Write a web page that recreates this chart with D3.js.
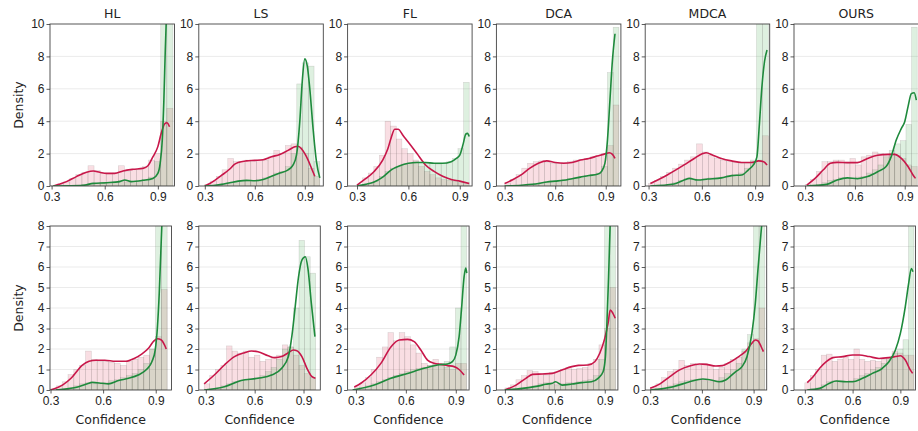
<!DOCTYPE html>
<html lang="en">
<head>
<meta charset="utf-8" />
<title>Confidence density per method</title>
<script src="https://cdn.jsdelivr.net/npm/d3@7"></script>
<style>
    body { margin: 0; background: #fff; }
    svg { display: block; font-family: "DejaVu Sans", sans-serif; }
    .tick text { font-size: 12px; fill: #222; }
    .tick line { stroke: #333; stroke-width: 0.8; }
</style>
</head>
<body>
<svg id="chart" width="918" height="431"></svg>
<script>
// ---- data ----
const methods = ["HL", "LS", "FL", "DCA", "MDCA", "OURS"];
const xTicks = [0.3, 0.6, 0.9];
const yTicksTop = [0, 2, 4, 6, 8, 10];
const yTicksBottom = [0, 1, 2, 3, 4, 5, 6, 7, 8];

// x-axis limits of each panel
const xLimTop = [[0.291, 0.994], [0.264, 1.011], [0.245, 0.972], [0.251, 0.990], [0.281, 0.982], [0.233, 0.983]];
const xLimBottom = [[0.297, 0.990], [0.257, 1.003], [0.250, 0.980], [0.249, 0.979], [0.271, 0.976], [0.232, 0.995]];

// histogram range (20 bins each)
const binRangeTop = [[0.30, 0.985], [0.30, 0.99], [0.30, 0.955], [0.30, 0.978], [0.30, 0.975], [0.30, 0.975]];
const binRangeBottom = [[0.30, 0.965], [0.29, 0.975], [0.29, 0.965], [0.30, 0.965], [0.30, 0.965], [0.30, 0.985]];

// bar densities, top row
const redBarsTop = [
    [0.02,0.1,0.25,0.45,0.7,0.85,1.25,0.95,0.8,0.75,0.8,1.25,0.9,1.0,1.0,1.2,1.6,2.0,4.0,4.8],
    [0.1,0.3,0.6,1.0,1.7,1.5,1.5,1.6,1.5,1.6,1.6,1.8,2.2,2.0,2.5,2.6,2.4,2.0,1.1,0.6],
    [0.1,0.5,0.8,1.2,1.9,4.0,3.7,2.9,2.3,2.0,1.6,1.2,0.9,0.7,0.5,0.4,0.35,0.3,0.2,0.2],
    [0.15,0.4,0.7,1.1,1.4,1.5,1.55,1.45,1.4,1.4,1.45,1.5,1.6,1.65,1.7,1.8,1.9,2.0,2.5,5.0],
    [0.15,0.35,0.6,0.85,1.1,1.35,1.6,1.8,2.6,2.1,1.9,1.7,1.6,1.5,1.45,1.4,1.4,1.5,1.6,3.1],
    [0.1,0.4,0.9,1.5,1.5,1.6,1.6,1.4,1.7,1.3,1.8,1.9,2.1,2.0,1.9,2.0,1.9,1.7,1.3,1.2]
];
const greenBarsTop = [
    [0,0,0,0.02,0.05,0.1,0.15,0.15,0.2,0.2,0.25,0.35,0.25,0.3,0.3,0.4,0.55,1.5,11,16],
    [0,0.02,0.05,0.1,0.2,0.3,0.35,0.3,0.35,0.4,0.5,0.6,0.8,0.9,1.2,2.0,6.3,7.6,7.4,1.5],
    [0,0.05,0.15,0.3,0.6,0.9,1.1,1.2,1.35,1.4,1.5,1.45,1.4,1.4,1.35,1.4,1.5,1.7,2.3,6.4],
    [0,0,0.02,0.05,0.1,0.15,0.2,0.25,0.3,0.35,0.4,0.45,0.5,0.6,0.65,0.7,0.8,1.2,7.0,9.8],
    [0,0.02,0.05,0.1,0.2,0.35,0.45,0.4,0.4,0.45,0.5,0.5,0.55,0.65,0.7,0.8,1.1,1.6,10.5,10.5],
    [0,0.02,0.1,0.2,0.35,0.4,0.5,0.5,0.45,0.55,0.6,0.8,1.0,1.3,1.8,2.2,2.6,2.8,3.8,9.8]
];
// bar densities, bottom row
const redBarsBottom = [
    [0.05,0.2,0.4,0.75,1.0,1.2,1.9,1.5,1.4,1.4,1.35,1.3,1.2,1.4,1.5,1.6,1.7,2.0,2.6,4.9],
    [0.3,0.7,1.0,1.2,2.15,1.9,1.8,1.9,1.6,1.7,1.4,1.5,1.6,1.7,2.2,2.1,1.7,1.2,0.8,0.6],
    [0.15,0.35,0.6,1.0,1.6,2.1,2.8,2.4,2.8,2.6,2.2,1.8,1.3,1.2,1.5,1.3,1.1,1.0,1.3,1.3],
    [0.1,0.25,0.5,0.7,0.95,0.9,0.8,0.7,0.85,0.9,1.0,1.1,1.0,1.05,1.1,1.3,1.5,2.2,3.0,5.0],
    [0.1,0.3,0.6,0.9,1.0,1.45,1.2,1.3,1.2,1.3,1.2,1.0,1.1,1.3,1.5,1.6,1.9,2.3,2.5,4.0],
    [0.35,0.7,1.0,1.7,1.75,1.4,1.5,1.6,1.5,2.0,1.5,1.4,1.45,1.4,1.5,1.6,1.9,1.8,1.7,1.7]
];
const greenBarsBottom = [
    [0,0,0.05,0.1,0.2,0.3,0.35,0.3,0.3,0.35,0.45,0.5,0.6,0.7,0.8,1.0,1.3,2.0,9,12],
    [0,0.05,0.1,0.2,0.3,0.4,0.45,0.5,0.55,0.6,0.7,0.9,1.1,1.5,2.0,2.1,4.0,7.3,6.5,5.7],
    [0,0.1,0.2,0.3,0.4,0.5,0.6,0.7,0.8,0.9,1.0,1.05,1.1,1.2,1.25,1.3,1.4,2.1,4.0,8.5],
    [0,0,0.05,0.1,0.15,0.2,0.3,0.35,0.3,0.25,0.3,0.35,0.35,0.4,0.45,0.5,0.7,1.5,9,12],
    [0,0.05,0.1,0.2,0.3,0.4,0.45,0.5,0.5,0.45,0.4,0.45,0.6,0.8,1.0,1.3,2.0,2.7,8.5,10],
    [0,0.05,0.1,0.25,0.4,0.45,0.4,0.4,0.45,0.55,0.7,0.8,1.0,1.1,1.3,1.6,1.8,2.0,2.45,8.5]
];

// KDE curves as [confidence, density] pairs
const redKdeTop = [
    [[0.31,0],[0.34,0.1],[0.384,0.27],[0.44,0.58],[0.497,0.85],[0.535,0.93],[0.572,0.85],[0.61,0.78],[0.656,0.78],[0.703,0.93],[0.76,1.03],[0.816,1.09],[0.844,1.25],[0.872,1.8],[0.9,2.43],[0.919,3.25],[0.938,3.83],[0.951,3.9],[0.966,3.66]],
    [[0.30,0],[0.33,0.15],[0.36,0.35],[0.40,0.65],[0.45,1.05],[0.48,1.35],[0.50,1.45],[0.55,1.55],[0.60,1.58],[0.65,1.62],[0.70,1.8],[0.75,1.95],[0.80,2.2],[0.84,2.42],[0.86,2.45],[0.88,2.3],[0.90,2.0],[0.92,1.6],[0.94,1.1],[0.96,0.6]],
    [[0.30,0.05],[0.35,0.45],[0.40,0.9],[0.45,1.6],[0.48,2.3],[0.50,3.0],[0.52,3.5],[0.54,3.5],[0.57,3.1],[0.60,2.7],[0.65,2.0],[0.70,1.3],[0.75,0.9],[0.80,0.6],[0.85,0.4],[0.90,0.3],[0.955,0.15]],
    [[0.30,0.15],[0.35,0.4],[0.40,0.7],[0.45,1.1],[0.50,1.4],[0.55,1.55],[0.60,1.45],[0.65,1.4],[0.70,1.45],[0.75,1.6],[0.80,1.7],[0.85,1.85],[0.90,2.0],[0.92,2.05],[0.94,1.95],[0.955,1.7]],
    [[0.31,0.15],[0.405,0.68],[0.5,1.3],[0.557,1.7],[0.605,2.0],[0.624,2.05],[0.662,1.9],[0.71,1.7],[0.767,1.55],[0.824,1.45],[0.88,1.45],[0.92,1.55],[0.948,1.5],[0.967,1.3]],
    [[0.31,0.06],[0.36,0.47],[0.41,1.0],[0.452,1.4],[0.493,1.46],[0.554,1.44],[0.615,1.44],[0.676,1.7],[0.737,1.9],[0.798,1.95],[0.839,1.95],[0.88,1.7],[0.92,1.2],[0.95,0.68],[0.965,0.47]]
];
const greenKdeTop = [
    [[0.31,0],[0.40,0.01],[0.478,0.04],[0.535,0.16],[0.61,0.2],[0.685,0.27],[0.713,0.37],[0.75,0.27],[0.816,0.35],[0.872,0.47],[0.9,0.78],[0.913,1.4],[0.925,2.84],[0.934,5.3],[0.942,8.4],[0.95,11],[0.96,13.5],[0.975,14]],
    [[0.30,0],[0.35,0.03],[0.40,0.1],[0.45,0.2],[0.50,0.3],[0.55,0.35],[0.60,0.32],[0.65,0.4],[0.70,0.6],[0.75,0.8],[0.80,1.0],[0.83,1.3],[0.85,1.9],[0.87,4.0],[0.885,6.5],[0.90,7.85],[0.915,7.4],[0.93,6.0],[0.95,3.5],[0.97,1.5],[0.99,0.5]],
    [[0.30,0],[0.35,0.1],[0.40,0.25],[0.45,0.55],[0.50,1.0],[0.55,1.25],[0.60,1.4],[0.65,1.45],[0.70,1.45],[0.75,1.4],[0.80,1.4],[0.85,1.5],[0.88,1.7],[0.90,1.9],[0.92,2.6],[0.935,3.2],[0.945,3.25],[0.955,3.05]],
    [[0.30,0],[0.40,0.05],[0.50,0.15],[0.55,0.25],[0.60,0.3],[0.65,0.35],[0.70,0.45],[0.75,0.55],[0.80,0.65],[0.85,0.72],[0.875,0.9],[0.895,1.4],[0.91,2.8],[0.925,5.3],[0.94,7.8],[0.955,9.4]],
    [[0.31,0],[0.443,0.12],[0.5,0.37],[0.53,0.47],[0.576,0.37],[0.633,0.43],[0.71,0.5],[0.767,0.64],[0.824,0.68],[0.862,1.0],[0.89,1.3],[0.91,1.8],[0.923,3.66],[0.938,6.1],[0.953,7.7],[0.967,8.4]],
    [[0.31,0],[0.43,0.1],[0.493,0.37],[0.554,0.5],[0.615,0.45],[0.676,0.58],[0.737,0.88],[0.788,1.2],[0.818,1.8],[0.849,2.84],[0.88,3.56],[0.9,3.97],[0.92,4.9],[0.94,5.7],[0.957,5.76],[0.97,5.3]]
];
const redKdeBottom = [
    [[0.30,0],[0.37,0.25],[0.42,0.6],[0.48,1.2],[0.52,1.4],[0.56,1.45],[0.61,1.45],[0.67,1.4],[0.73,1.4],[0.78,1.55],[0.82,1.75],[0.86,2.05],[0.89,2.4],[0.91,2.5],[0.93,2.45],[0.95,2.2],[0.96,2.0]],
    [[0.29,0.3],[0.352,0.73],[0.414,1.22],[0.476,1.63],[0.538,1.82],[0.58,1.9],[0.62,1.87],[0.683,1.67],[0.724,1.58],[0.766,1.63],[0.807,1.82],[0.838,1.95],[0.859,1.92],[0.89,1.63],[0.921,1.06],[0.952,0.65],[0.973,0.57]],
    [[0.29,0.15],[0.33,0.33],[0.39,0.73],[0.45,1.3],[0.51,2.1],[0.56,2.44],[0.61,2.47],[0.65,2.36],[0.69,1.95],[0.73,1.46],[0.77,1.3],[0.81,1.25],[0.85,1.19],[0.89,1.14],[0.92,1.0],[0.95,0.73]],
    [[0.30,0],[0.367,0.24],[0.426,0.57],[0.466,0.76],[0.525,0.78],[0.584,0.81],[0.643,0.98],[0.702,1.14],[0.742,1.2],[0.80,1.22],[0.84,1.38],[0.87,1.79],[0.90,2.52],[0.92,3.25],[0.933,3.9],[0.949,3.74],[0.963,3.5]],
    [[0.30,0.08],[0.357,0.3],[0.414,0.65],[0.471,0.98],[0.529,1.17],[0.586,1.27],[0.624,1.25],[0.681,1.17],[0.719,1.19],[0.757,1.33],[0.814,1.63],[0.852,1.87],[0.89,2.28],[0.91,2.44],[0.925,2.4],[0.944,2.11],[0.957,1.87]],
    [[0.315,0.36],[0.352,0.65],[0.393,1.06],[0.435,1.38],[0.476,1.58],[0.538,1.63],[0.60,1.71],[0.642,1.71],[0.704,1.63],[0.766,1.54],[0.828,1.58],[0.869,1.63],[0.90,1.67],[0.931,1.46],[0.962,0.98],[0.977,0.81]]
];
const greenKdeBottom = [
    [[0.33,0],[0.46,0.16],[0.51,0.3],[0.537,0.37],[0.594,0.33],[0.63,0.3],[0.688,0.46],[0.745,0.57],[0.80,0.73],[0.85,1.02],[0.878,1.38],[0.897,1.95],[0.91,3.1],[0.92,4.7],[0.929,6.7],[0.937,8.5],[0.95,10.5],[0.96,11]],
    [[0.29,0],[0.414,0.16],[0.517,0.46],[0.62,0.57],[0.704,0.73],[0.766,1.06],[0.807,1.63],[0.828,2.6],[0.849,4.07],[0.869,5.5],[0.89,6.34],[0.911,6.5],[0.927,5.93],[0.948,4.23],[0.97,2.6]],
    [[0.28,0],[0.41,0.24],[0.51,0.57],[0.61,0.81],[0.71,1.06],[0.79,1.22],[0.85,1.27],[0.88,1.38],[0.90,1.7],[0.92,2.6],[0.934,3.9],[0.95,5.53],[0.96,5.95],[0.966,5.7]],
    [[0.30,0],[0.407,0.08],[0.505,0.2],[0.545,0.28],[0.584,0.33],[0.604,0.4],[0.643,0.24],[0.702,0.29],[0.761,0.36],[0.82,0.4],[0.86,0.57],[0.89,0.89],[0.904,1.63],[0.913,3.25],[0.923,5.5],[0.933,8.2],[0.945,10.5],[0.96,11]],
    [[0.30,0],[0.433,0.16],[0.529,0.4],[0.605,0.54],[0.652,0.49],[0.70,0.4],[0.738,0.49],[0.795,0.89],[0.833,1.14],[0.862,1.63],[0.89,2.76],[0.91,4.23],[0.925,5.85],[0.938,7.15],[0.948,8.1],[0.958,8.4]],
    [[0.315,0],[0.393,0.08],[0.455,0.33],[0.497,0.44],[0.559,0.4],[0.60,0.4],[0.662,0.57],[0.724,0.81],[0.787,1.06],[0.828,1.38],[0.869,1.95],[0.90,2.76],[0.931,4.07],[0.952,5.2],[0.969,5.93],[0.979,5.77]]
];

// ---- layout ----
const svg = d3.select("#chart");
const colStep = 148.8;
const rows = [
    { top: 24,  height: 162, width: 124.5, yMax: 10, yTicks: yTicksTop,
      xLim: xLimTop, binRange: binRangeTop, red: redBarsTop, green: greenBarsTop,
      redKde: redKdeTop, greenKde: greenKdeTop, title: true, xLabel: false },
    { top: 226, height: 164, width: 121.5, yMax: 8, yTicks: yTicksBottom,
      xLim: xLimBottom, binRange: binRangeBottom, red: redBarsBottom, green: greenBarsBottom,
      redKde: redKdeBottom, greenKde: greenKdeBottom, title: false, xLabel: true }
];

const redFill = "rgba(225, 90, 115, 0.2)";
const greenFill = "rgba(90, 180, 100, 0.2)";
const barEdge = "rgba(110, 105, 100, 0.28)";
const redLine = "#c8174a";
const greenLine = "#1e8a3c";

rows.forEach((row, r) => {
    methods.forEach((name, c) => {
        const left = 50 + c * colStep;
        const g = svg.append("g").attr("transform", `translate(${left},${row.top})`);

        const x = d3.scaleLinear().domain(row.xLim[c]).range([0, row.width]);
        const y = d3.scaleLinear().domain([0, row.yMax]).range([row.height, 0]);

        const clipId = `clip-${r}-${c}`;
        g.append("clipPath").attr("id", clipId)
            .append("rect").attr("width", row.width).attr("height", row.height);

        // grid
        g.append("g").selectAll("line")
            .data(row.yTicks.slice(1, -1))
            .join("line")
            .attr("x1", 0).attr("x2", row.width)
            .attr("y1", d => y(d)).attr("y2", d => y(d))
            .attr("stroke", "#e6e6e6").attr("stroke-width", 0.8);

        const plot = g.append("g").attr("clip-path", `url(#${clipId})`);

        // histogram bins
        const [b0, b1] = row.binRange[c];
        const bw = (b1 - b0) / row.red[c].length;
        const drawBars = (vals, fill) => {
            plot.append("g").selectAll("rect")
                .data(vals)
                .join("rect")
                .attr("x", (d, i) => x(b0 + i * bw))
                .attr("width", x(b0 + bw) - x(b0))
                .attr("y", d => y(d))
                .attr("height", d => y(0) - y(d))
                .attr("fill", fill)
                .attr("stroke", barEdge)
                .attr("stroke-width", 0.5);
        };
        drawBars(row.red[c], redFill);
        drawBars(row.green[c], greenFill);

        // kde lines
        const line = d3.line()
            .x(d => x(d[0]))
            .y(d => y(d[1]))
            .curve(d3.curveMonotoneX);
        plot.append("path").datum(row.redKde[c])
            .attr("d", line).attr("fill", "none")
            .attr("stroke", redLine).attr("stroke-width", 1.6);
        plot.append("path").datum(row.greenKde[c])
            .attr("d", line).attr("fill", "none")
            .attr("stroke", greenLine).attr("stroke-width", 1.6);

        // frame
        g.append("rect")
            .attr("width", row.width).attr("height", row.height)
            .attr("fill", "none").attr("stroke", "#444").attr("stroke-width", 0.9);

        // axes
        const xAxis = g.append("g")
            .attr("transform", `translate(0,${row.height})`)
            .call(d3.axisBottom(x).tickValues(xTicks).tickFormat(d3.format(".1f"))
                .tickSize(3.5).tickSizeOuter(0));
        xAxis.select(".domain").remove();

        const yAxis = g.append("g")
            .call(d3.axisLeft(y).tickValues(row.yTicks).tickFormat(d3.format("d"))
                .tickSize(3.5).tickSizeOuter(0));
        yAxis.select(".domain").remove();
        yAxis.selectAll(".tick text").attr("x", -5.5);

        if (row.title) {
            g.append("text")
                .attr("x", row.width / 2).attr("y", -6)
                .attr("text-anchor", "middle")
                .attr("font-size", 12.5).attr("fill", "#222")
                .text(name);
        }
        if (row.xLabel) {
            g.append("text")
                .attr("x", row.width / 2).attr("y", row.height + 34)
                .attr("text-anchor", "middle")
                .attr("font-size", 12.5).attr("fill", "#222")
                .text("Confidence");
        }
        if (c === 0) {
            g.append("text")
                .attr("transform", `translate(-27,${row.height / 2}) rotate(-90)`)
                .attr("text-anchor", "middle")
                .attr("font-size", 12.5).attr("fill", "#222")
                .text("Density");
        }
    });
});
</script>
</body>
</html>
